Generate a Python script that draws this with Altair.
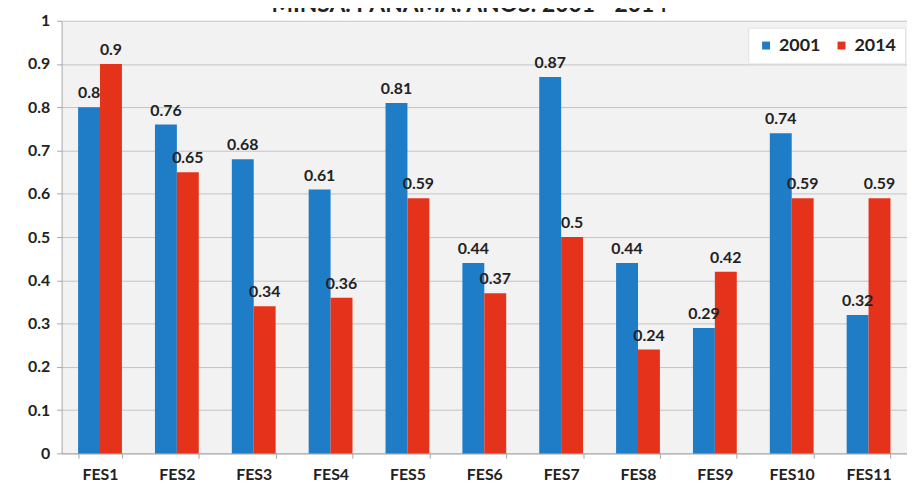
import altair as alt
import pandas as pd

categories = ["FES1", "FES2", "FES3", "FES4", "FES5", "FES6", "FES7", "FES8", "FES9", "FES10", "FES11"]
values_2001 = [0.8, 0.76, 0.68, 0.61, 0.81, 0.44, 0.87, 0.44, 0.29, 0.74, 0.32]
values_2014 = [0.9, 0.65, 0.34, 0.36, 0.59, 0.37, 0.5, 0.24, 0.42, 0.59, 0.59]
years = ["2001", "2014"]
y_ticks = [0, 0.1, 0.2, 0.3, 0.4, 0.5, 0.6, 0.7, 0.8, 0.9, 1.0]
title_text = "MINSA. PANAMÁ. AÑOS: 2001 - 2014"

BLUE = "#1f7cc6"
RED = "#e4331a"
FONT = "Lato"
TXT = "#222222"
AXC = "#a6a6a6"

rows = []
for c, a, b in zip(categories, values_2001, values_2014):
    rows.append({"fes": c, "year": "2001", "value": a})
    rows.append({"fes": c, "year": "2014", "value": b})
df = pd.DataFrame(rows)

x = alt.X(
    "fes:N", sort=categories, title=None,
    scale=alt.Scale(paddingInner=0.43, paddingOuter=0.215),
    axis=alt.Axis(labelAngle=0, tickBand="extent", grid=False, tickSize=5,
                  labelPadding=8, labelFont=FONT, labelFontSize=16,
                  labelFontWeight="bold", labelColor=TXT,
                  domainColor=AXC, tickColor=AXC),
)
y = alt.Y(
    "value:Q", title=None,
    scale=alt.Scale(domain=[0, 1], nice=False, zero=True),
    axis=alt.Axis(values=y_ticks, format=".1~f", tickSize=5, labelPadding=7,
                  labelFont=FONT, labelFontSize=16, labelFontWeight="bold",
                  labelColor=TXT, domainColor=AXC, tickColor=AXC,
                  grid=True, gridColor="#c4c4c4", gridWidth=1),
)
xo = alt.XOffset("year:N", sort=years)
color = alt.Color(
    "year:N", scale=alt.Scale(domain=years, range=[BLUE, RED]),
    legend=alt.Legend(title=None, orient="none", legendX=692, legendY=7,
                      direction="horizontal", fillColor="white",
                      strokeColor="#e2e2e2", padding=9, symbolType="square",
                      symbolSize=64, symbolStrokeWidth=0, labelFont=FONT,
                      labelFontSize=18, labelFontWeight="bold", labelColor=TXT,
                      labelOffset=4, columnPadding=12),
)

bars = alt.Chart(df).mark_bar().encode(x=x, xOffset=xo, y=y, color=color)
labels = alt.Chart(df).mark_text(
    dy=-9, baseline="alphabetic", font=FONT, fontSize=16, fontWeight="bold", color=TXT
).encode(x=x, xOffset=xo, y="value:Q", text=alt.Text("value:Q", format=".2~f"))

title = alt.Chart(pd.DataFrame({"t": [title_text]})).mark_text(
    font=FONT, fontSize=23, fontWeight="bold", color=TXT, baseline="alphabetic",
    align="center"
).encode(text="t:N", x=alt.value(411), y=alt.value(-9))

chart = alt.layer(bars, labels, title).properties(
    width=852, height=436,
    autosize=alt.AutoSizeParams(type="none"),
    padding={"left": 54, "top": 11, "right": 0, "bottom": 28},
).configure_view(fill="#f2f2f2", stroke="transparent")

chart.save("out.html", embed_options={"renderer": "svg", "actions": False})
